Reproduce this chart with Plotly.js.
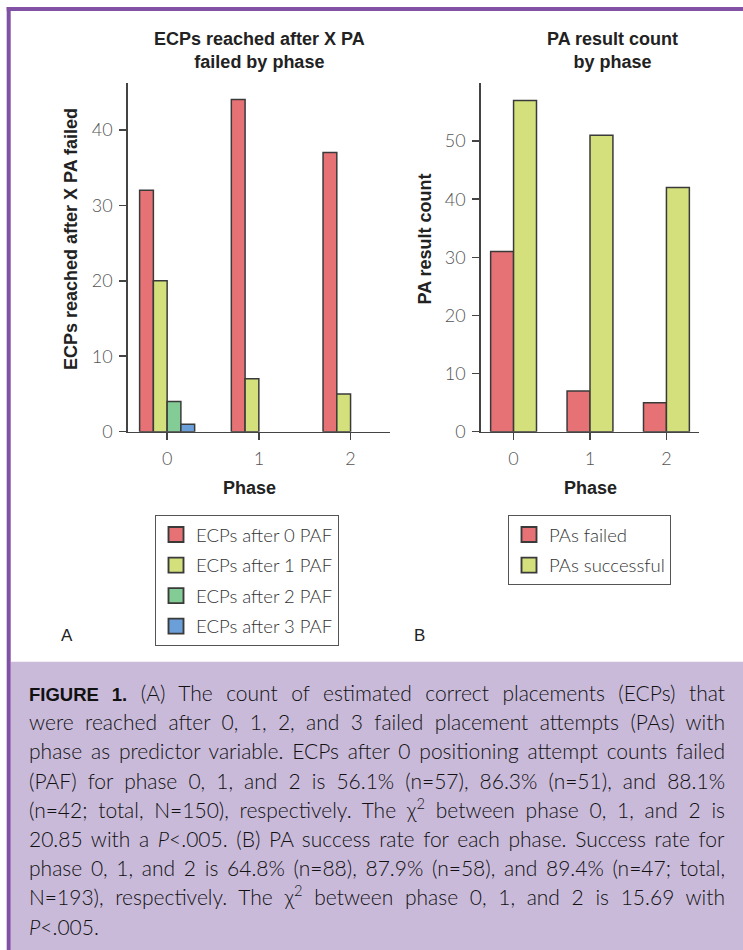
<!DOCTYPE html>
<html><head><meta charset="utf-8">
<script src="https://cdn.plot.ly/plotly-3.0.1.min.js"></script>
<style>html,body{margin:0;padding:0;background:#fff;} #chart{width:743px;height:950px;}</style>
</head><body><div id="chart"></div>
<script>
// ---------- data ----------
const phases = ['0', '1', '2'];
const ecpAfter0 = [32, 44, 37];
const ecpAfter1 = [20, 7, 5];
const ecpAfter2 = [4, 0, 0];
const ecpAfter3 = [1, 0, 0];
const ecpNames = ['ECPs after 0 PAF', 'ECPs after 1 PAF', 'ECPs after 2 PAF', 'ECPs after 3 PAF'];
const paFailed = [31, 7, 5];
const paSuccessful = [57, 51, 42];
const paNames = ['PAs failed', 'PAs successful'];
const ticksA = [0, 10, 20, 30, 40];
const ticksB = [0, 10, 20, 30, 40, 50];
const titleA = 'ECPs reached after X PA<br>failed by phase';
const titleB = 'PA result count<br>by phase';
const yTitleA = 'ECPs reached after X PA failed';
const yTitleB = 'PA result count';
const xTitle = 'Phase';
const panelLabels = ['A', 'B'];
const captionLines = [
  '<span style="font-family:Liberation Sans,Arial,sans-serif;font-weight:bold;font-size:18.5px">FIGURE 1.</span> (A) The count of estimated correct placements (ECPs) that',
  'were reached after 0, 1, 2, and 3 failed placement attempts (PAs) with',
  'phase as predictor variable. ECPs after 0 positioning attempt counts failed',
  '(PAF) for phase 0, 1, and 2 is 56.1% (n=57), 86.3% (n=51), and 88.1%',
  '(n=42; total, N=150), respectively. The χ<sup>2</sup> between phase 0, 1, and 2 is',
  '20.85 with a <i>P</i>&lt;.005. (B) PA success rate for each phase. Success rate for',
  'phase 0, 1, and 2 is 64.8% (n=88), 87.9% (n=58), and 89.4% (n=47; total,',
  'N=193), respectively. The χ<sup>2</sup> between phase 0, 1, and 2 is 15.69 with',
  '<i>P</i>&lt;.005.'
];

// ---------- style ----------
const W = 743, H = 950;
const px = x => x / W;
const py = y => 1 - y / H;
const colors = ['#E77275', '#D4E07B', '#84CC95', '#6A9FD9'];
const outline = '#3a3a3a';
const axisCol = '#444';
const headFont = "'Liberation Sans',Arial,sans-serif";
const bodyFont = "Lato,'Open Sans',sans-serif";

const ecpSeries = [ecpAfter0, ecpAfter1, ecpAfter2, ecpAfter3];
const traces = [];
ecpSeries.forEach((vals, i) => {
  traces.push({
    type: 'bar', x: phases, y: vals, name: ecpNames[i],
    xaxis: 'x', yaxis: 'y', legend: 'legend', legendgroup: 'a' + i,
    marker: {color: colors[i], line: {color: outline, width: vals.map(v => v > 0 ? 1.5 : 0)}},
    hoverinfo: 'x+y+name'
  });
});
[paFailed, paSuccessful].forEach((vals, i) => {
  traces.push({
    type: 'bar', x: phases, y: vals, name: paNames[i],
    xaxis: 'x2', yaxis: 'y2', legend: 'legend2', legendgroup: 'b' + i,
    marker: {color: colors[i], line: {color: outline, width: vals.map(v => v > 0 ? 1.5 : 0)}},
    hoverinfo: 'x+y+name'
  });
});

const tickFont = {family: bodyFont, size: 18, color: '#555', weight: 300};
function xAxis(domain) {
  return {
    domain: domain, type: 'category', range: [-0.43, 2.43],
    showline: true, linecolor: axisCol, linewidth: 1.5,
    ticks: 'outside', ticklen: 7, tickwidth: 1.5, tickcolor: axisCol,
    showgrid: false, zeroline: false, tickfont: tickFont, ticklabelstandoff: 3,
    fixedrange: true
  };
}
function yAxis(range, tickvals, anchor) {
  return {
    domain: [py(431.7), py(83)], range: range, anchor: anchor,
    tickvals: tickvals, ticktext: tickvals.map(String),
    showline: true, linecolor: axisCol, linewidth: 1.5,
    ticks: 'outside', ticklen: 7, tickwidth: 1.5, tickcolor: axisCol,
    showgrid: false, zeroline: false, tickfont: tickFont, ticklabelstandoff: 3,
    fixedrange: true
  };
}

const annotations = [];
const titleFont = {family: headFont, size: 18, color: '#222', weight: 'bold'};
const annDefaults = {xref: 'paper', yref: 'paper', showarrow: false, xanchor: 'center', yanchor: 'middle'};
annotations.push(Object.assign({text: titleA, x: px(259), y: py(50.5), font: titleFont}, annDefaults));
annotations.push(Object.assign({text: titleB, x: px(612), y: py(50.5), font: titleFont}, annDefaults));
annotations.push(Object.assign({text: yTitleA, x: px(71), y: py(239), textangle: -90, font: titleFont}, annDefaults));
annotations.push(Object.assign({text: yTitleB, x: px(425), y: py(239.5), textangle: -90, font: titleFont}, annDefaults));
annotations.push(Object.assign({text: xTitle, x: px(249.5), y: py(488), font: titleFont}, annDefaults));
annotations.push(Object.assign({text: xTitle, x: px(590), y: py(488), font: titleFont}, annDefaults));
annotations.push(Object.assign({text: panelLabels[0], x: px(67), y: py(635), font: {family: headFont, size: 17, color: '#222'}}, annDefaults));
annotations.push(Object.assign({text: panelLabels[1], x: px(419), y: py(635), font: {family: headFont, size: 17, color: '#222'}}, annDefaults));
const capStart = annotations.length;
const capFont = {family: bodyFont, size: 21, color: '#111', weight: 300};
captionLines.forEach((t, i) => {
  annotations.push({text: t, x: px(29), y: py(705 + i * 29.2), xref: 'paper', yref: 'paper', showarrow: false,
    xanchor: 'left', yanchor: 'bottom', align: 'left', borderpad: 0, borderwidth: 0, font: capFont});
});

const shapes = [
  {type: 'rect', xref: 'paper', yref: 'paper', x0: px(10.7), x1: px(743), y0: py(950), y1: py(661.7), fillcolor: '#C9BADA', line: {width: 0}, layer: 'below'},
  {type: 'line', xref: 'paper', yref: 'paper', x0: px(6.7), x1: px(743), y0: py(9), y1: py(9), line: {color: '#8152A3', width: 4}},
  {type: 'line', xref: 'paper', yref: 'paper', x0: px(8.7), x1: px(8.7), y0: py(7), y1: py(950), line: {color: '#8152A3', width: 4}}
];

const legendFont = {family: bodyFont, size: 18.5, color: '#333', weight: 300};
const layout = {
  width: W, height: H,
  margin: {l: 0, r: 0, t: 0, b: 0},
  paper_bgcolor: '#fff', plot_bgcolor: 'rgba(0,0,0,0)',
  barmode: 'group', bargap: 0.4, bargroupgap: 0,
  xaxis: Object.assign(xAxis([px(127.7), px(390)]), {anchor: 'y'}),
  yaxis: yAxis([0, 46.2], ticksA, 'x'),
  xaxis2: Object.assign(xAxis([px(480.7), px(699.3)]), {anchor: 'y2'}),
  yaxis2: yAxis([0, 60], ticksB, 'x2'),
  legend: {x: px(155), y: py(515), xanchor: 'left', yanchor: 'top', bgcolor: '#fff', bordercolor: '#555', borderwidth: 1,
    font: legendFont, tracegroupgap: 3.5, traceorder: 'grouped'},
  legend2: {x: px(508), y: py(515), xanchor: 'left', yanchor: 'top', bgcolor: '#fff', bordercolor: '#555', borderwidth: 1,
    font: legendFont, tracegroupgap: 3.5, traceorder: 'grouped'},
  annotations: annotations,
  shapes: shapes,
  showlegend: true
};

Plotly.newPlot('chart', traces, layout, {displayModeBar: false, staticPlot: true}).then(gd => {
  // enlarge legend swatches to match the reference
  gd.querySelectorAll('.legendpoints path').forEach(p => {
    const tr = p.getAttribute('transform') || '';
    p.setAttribute('transform', tr + ' scale(1.25)');
  });
  // justify caption lines (all but the last) to the text column width
  const targetW = 725 - 29;
  gd.querySelectorAll('.annotation').forEach(g => {
    const idx = +g.getAttribute('data-index');
    if (idx < capStart || idx >= capStart + captionLines.length - 1) return;
    const t = g.querySelector('text.annotation-text');
    if (!t) return;
    const w = t.getBBox().width;
    const spaces = (t.textContent.match(/ /g) || []).length;
    if (spaces > 0) t.style.wordSpacing = ((targetW - w) / spaces) + 'px';
  });
});
</script>
</body></html>
